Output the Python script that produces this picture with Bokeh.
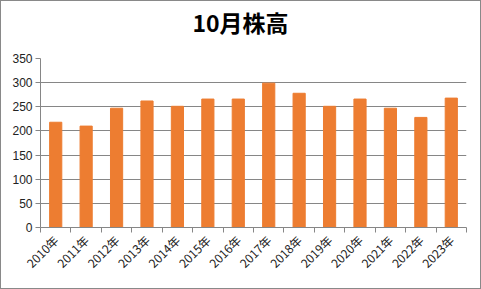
from bokeh.plotting import figure
from bokeh.models import FixedTicker, Range1d
from bokeh.layouts import column
from bokeh.core.properties import value
from bokeh.embed import file_html
from bokeh.resources import INLINE
import math

years = ["2010年", "2011年", "2012年", "2013年", "2014年", "2015年", "2016年",
         "2017年", "2018年", "2019年", "2020年", "2021年", "2022年", "2023年"]
values = [218, 210, 247, 262, 251, 266, 266, 299, 278, 251, 266, 247, 228, 268]
title_text = "10月株高"

n = len(years)
centers = [i + 0.5 for i in range(n)]
bounds = [i for i in range(n + 1)]

W = 479
TH = 50
MH = 237
LB, RB = 39, 14

# title strip (its frame is aligned with the chart frame by the column layout)
t = figure(width=W, height=TH, output_backend="svg", toolbar_location=None,
           x_range=Range1d(LB, W - RB), y_range=Range1d(0, TH),
           min_border_left=LB, min_border_right=RB,
           min_border_top=0, min_border_bottom=0)
t.axis.visible = False
t.grid.visible = False
t.outline_line_color = None
t.background_fill_color = "white"
t.border_fill_color = "white"
t.text(x=[W / 2 - 0.5], y=[TH - 20], text=[title_text],
       text_font=value("Noto Sans CJK JP"), text_font_style="bold",
       text_font_size=value("23px"), text_align="center", text_baseline="middle",
       text_color="#000000")

# main chart
p = figure(width=W, height=MH, output_backend="svg", toolbar_location=None,
           x_range=Range1d(0, n), y_range=Range1d(0, 350),
           min_border_left=LB, min_border_right=RB, min_border_top=7, min_border_bottom=61)
p.outline_line_color = None
p.background_fill_color = "white"
p.border_fill_color = "white"

p.vbar(x=centers, top=values, width=0.4, color="#ED7D31")

grid_c = "#868686"
p.xgrid.grid_line_color = None
p.ygrid.grid_line_color = grid_c
p.ygrid.grid_line_width = 1

p.yaxis.ticker = FixedTicker(ticks=list(range(0, 351, 50)))
p.yaxis.axis_line_color = grid_c
p.yaxis.major_tick_line_color = grid_c
p.yaxis.major_tick_out = 5
p.yaxis.major_tick_in = 0
p.yaxis.minor_tick_line_color = None
p.yaxis.major_label_text_font = "Liberation Sans"
p.yaxis.major_label_text_font_size = "12px"
p.yaxis.major_label_text_color = "#222222"
p.yaxis.major_label_standoff = 3

p.xaxis.ticker = FixedTicker(ticks=centers, minor_ticks=bounds)
p.xaxis.major_label_overrides = {c: y for c, y in zip(centers, years)}
p.xaxis.axis_line_color = grid_c
p.xaxis.major_tick_line_color = None
p.xaxis.minor_tick_line_color = grid_c
p.xaxis.minor_tick_out = 5
p.xaxis.minor_tick_in = 0
p.xaxis.major_label_orientation = math.pi / 4
p.xaxis.major_label_text_font = "Noto Sans CJK JP"
p.xaxis.major_label_text_font_size = "12px"
p.xaxis.major_label_text_color = "#222222"
p.xaxis.major_label_standoff = 4

layout = column(t, p, spacing=0)
layout.styles = {"border": "1px solid #898989"}

open("out.html", "w").write(file_html(layout, INLINE))
